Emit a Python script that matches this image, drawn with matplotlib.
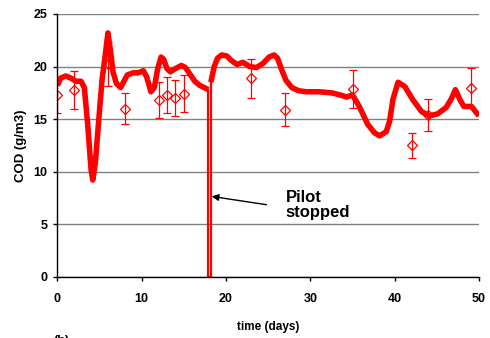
import matplotlib
matplotlib.use("Agg")
import matplotlib.pyplot as plt

plt.rcParams['font.family'] = ['Liberation Sans', 'DejaVu Sans']
plt.rcParams['font.weight'] = 'bold'

# continuous COD signal (g/m3) vs time (days)
days = [0.0, 0.4, 1.0, 1.6, 2.2, 2.8, 3.2, 3.6, 4.0, 4.2, 4.5, 4.9, 5.3, 5.7,
        6.0, 6.3, 6.6, 7.0, 7.5, 7.9, 8.3, 9.0, 9.6, 10.2, 10.6, 11.1, 11.5,
        11.9, 12.3, 12.6, 13.0, 13.4, 14.0, 14.7, 15.2, 15.7, 16.3, 16.9,
        17.4, 17.9]
cod = [18.2, 18.9, 19.1, 18.9, 18.6, 18.6, 18.0, 14.5, 10.2, 9.2, 10.8,
       14.8, 18.7, 21.2, 23.2, 21.5, 19.5, 18.4, 18.0, 18.6, 19.2, 19.4,
       19.4, 19.6, 19.0, 17.6, 18.0, 19.8, 20.9, 20.7, 19.8, 19.5, 19.8,
       20.1, 19.9, 19.3, 18.6, 18.2, 18.0, 17.8]

days_after = [18.2, 18.6, 19.0, 19.5, 20.1, 20.6, 21.3, 22.0, 22.8, 23.6,
              24.4, 25.1, 25.7, 26.1, 26.6, 27.1, 27.8, 28.6, 29.5, 31.0,
              32.5, 33.5, 34.3, 35.0, 35.8, 36.8, 37.6, 38.2, 39.0, 39.4,
              39.8, 40.4, 41.2, 42.1, 43.2, 44.1, 45.1, 46.1, 46.7, 47.2,
              47.7, 48.2, 49.1, 49.7, 50.0]
cod_after = [18.5, 20.0, 20.8, 21.1, 21.0, 20.6, 20.2, 20.4, 20.0, 19.9,
             20.3, 20.9, 21.1, 20.8, 19.7, 18.7, 18.0, 17.7, 17.6, 17.6,
             17.5, 17.3, 17.1, 17.3, 16.2, 14.5, 13.7, 13.4, 13.8, 14.8,
             16.9, 18.5, 18.1, 16.9, 15.7, 15.3, 15.5, 16.1, 16.9, 17.8,
             16.9, 16.2, 16.2, 15.6, 15.3]

# pilot shutdown: signal drops to zero and comes back
stop_days = [17.9, 17.9, 18.2, 18.2]
stop_cod = [17.8, 0.0, 0.0, 18.5]

# lab samples with standard deviation
sample_days = [0, 2, 6, 8, 12, 13, 14, 15, 23, 27, 35, 42, 44, 49]
sample_cod = [17.3, 17.8, 20.2, 16.0, 16.8, 17.3, 17.0, 17.4, 18.9, 15.9,
              17.9, 12.5, 15.4, 18.0]
sample_err = [1.7, 1.8, 2.1, 1.5, 1.7, 1.75, 1.75, 1.75, 1.85, 1.55,
              1.8, 1.2, 1.55, 1.85]

fig = plt.figure(figsize=(4.9, 3.38), dpi=100)
ax = fig.add_axes([0.117, 0.1814, 0.8606, 0.7772])

red = '#ff0000'
ax.plot(days, cod, color=red, lw=4.0, solid_joinstyle='round',
        solid_capstyle='butt', zorder=3)
ax.plot(days_after, cod_after, color=red, lw=4.0, solid_joinstyle='round',
        solid_capstyle='butt', zorder=3)
ax.plot(stop_days, stop_cod, color=red, lw=1.6, zorder=3)

# open diamonds: they vanish where they sit on the thick line
ax.errorbar(sample_days, sample_cod, yerr=sample_err, fmt='D', color=red,
            mfc='none', mec=red, ms=5.5, mew=0.9, elinewidth=0.9,
            capsize=3, capthick=0.9, zorder=4)

ax.set_xlim(0, 50)
ax.set_ylim(0, 25)
ax.set_xticks([0, 10, 20, 30, 40, 50])
ax.set_yticks([0, 5, 10, 15, 20, 25])
ax.grid(axis='y', color='#808080', lw=1.0)
ax.set_axisbelow(True)
for side in ['top', 'right']:
    ax.spines[side].set_visible(False)
for side in ['left', 'bottom']:
    ax.spines[side].set_linewidth(1.0)
    ax.spines[side].set_zorder(5)

ax.tick_params(axis='x', length=3, width=1, pad=9, labelsize=9)
ax.tick_params(axis='y', length=3, width=1, pad=4, labelsize=9)

ax.set_xlabel('time (days)', fontsize=8.5, fontweight='bold', labelpad=11)
ax.set_ylabel('COD (g/m3)', fontsize=9.5, fontweight='bold', labelpad=5)

ax.annotate('', xy=(18.3, 7.64), xytext=(24.8, 6.85),
            arrowprops=dict(arrowstyle='-|>', color='black', lw=1.0,
                            mutation_scale=10, shrinkA=0, shrinkB=0))
ax.text(27.1, 6.85, 'Pilot\nstopped', fontsize=12, fontweight='bold',
        ha='left', va='center', linespacing=1.0)

fig.text(0.108, 0.009, '(b)', fontsize=9, fontweight='bold', ha='left', va='top')

fig.savefig('out.png', dpi=100)
